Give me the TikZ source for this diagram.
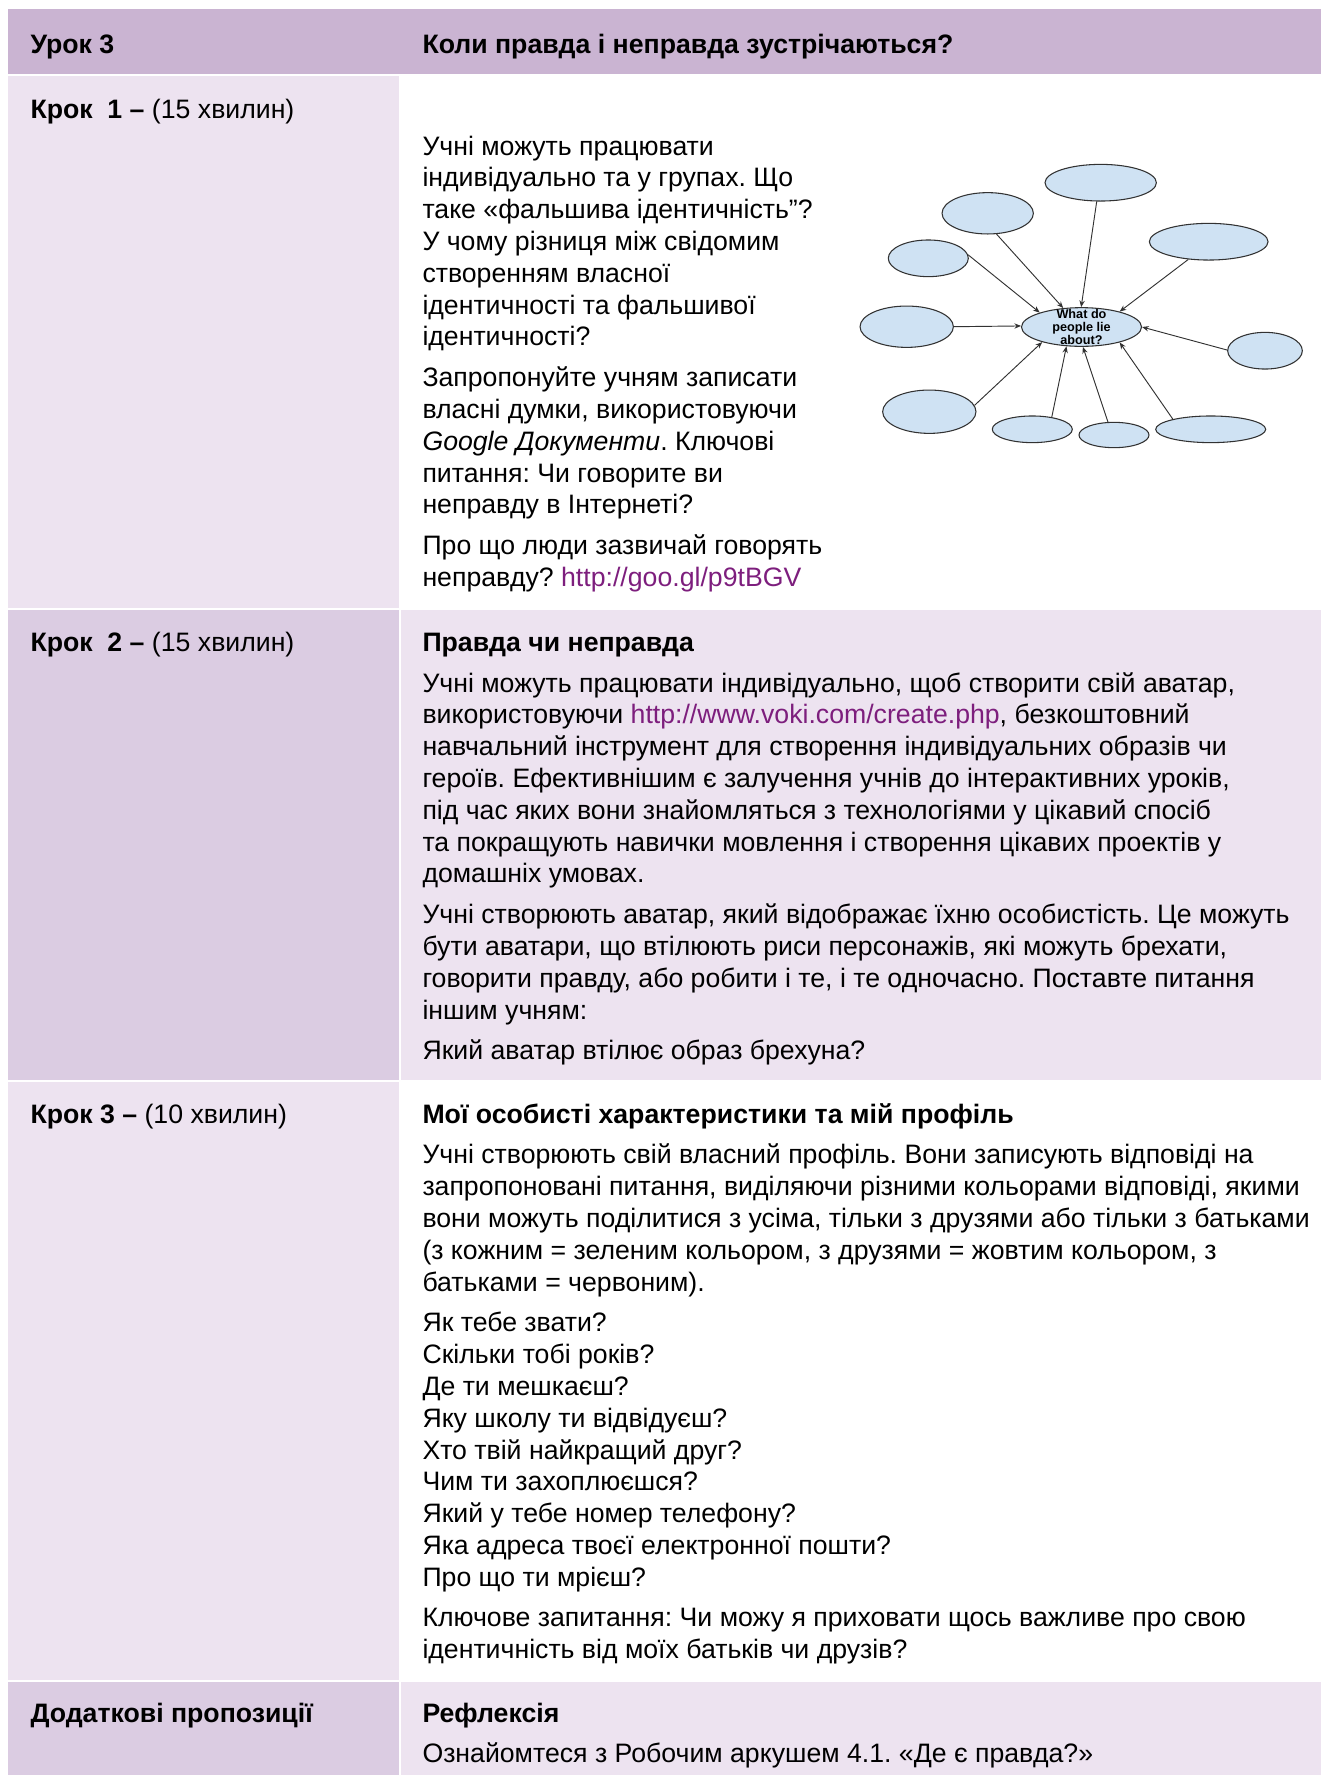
\documentclass[tikz,border=0pt]{standalone}
\usepackage{fontspec}
\setmainfont{Liberation Sans}
\usetikzlibrary{shapes.geometric,arrows.meta}

\definecolor{headpurple}{RGB}{202,180,210}
\definecolor{midpurple}{RGB}{219,204,226}
\definecolor{lightpurple}{RGB}{237,227,240}
\definecolor{linkpurple}{RGB}{125,30,125}
\definecolor{bubbleblue}{RGB}{207,226,243}
\definecolor{inkgray}{RGB}{50,50,50}

\newcommand{\weblink}[1]{{\color{linkpurple}#1}}

\tikzset{every picture/.style={line width=0.75pt}}
\tikzset{
  celltext/.style={anchor=base west, align=left, inner sep=0pt, font=\fontsize{20}{23.85}\selectfont},
  boldtext/.style={celltext, font=\bfseries\fontsize{20}{23.85}\selectfont},
  bubble/.style={ellipse, draw=inkgray, fill=bubbleblue, line width=0.8pt, inner sep=0pt},
  spoke/.style={draw=inkgray, line width=0.7pt, -{Stealth[length=5pt,width=4pt]}},
}

\begin{document}
\frenchspacing
\begin{tikzpicture}[x=0.75pt,y=0.75pt,yscale=-1,xscale=1]
\useasboundingbox (0,0) rectangle (1321,1775);

%Table backgrounds
\fill[headpurple] (8,9) rectangle (1321,74);
\fill[lightpurple] (8,76) rectangle (399,608);
\fill[midpurple] (8,610) rectangle (399,1080);
\fill[lightpurple] (401,610) rectangle (1321,1080);
\fill[lightpurple] (8,1082) rectangle (399,1680);
\fill[midpurple] (8,1682) rectangle (399,1775);
\fill[lightpurple] (401,1682) rectangle (1321,1775);

% Text nodes are placed at the baseline of their last line
% Text Node
\node[boldtext] (lesson) at (30,53) {Урок 3};
% Text Node
\node[boldtext] (topic) at (422,53) {Коли правда і неправда зустрічаються?};

% Text Node
\node[celltext] (stepone) at (30,118) {\textbf{Крок\ \ 1 –} (15 хвилин)};
% Text Node
\node[celltext] (oneA) at (422,345.8) {Учні можуть працювати\\індивідуально та у групах. Що\\таке «фальшива ідентичність”?\\У чому різниця між свідомим\\створенням власної\\ідентичності та фальшивої\\ідентичності?};
% Text Node
\node[celltext] (oneB) at (422,513.8) {Запропонуйте учням записати\\власні думки, використовуючи\\\textit{Google Документи}. Ключові\\питання: Чи говорите ви\\неправду в Інтернеті?};
% Text Node
\node[celltext] (oneC) at (422,586.4) {Про що люди зазвичай говорять\\неправду? \weblink{http://goo.gl/p9tBGV}};

%Shape: Ellipse
\node[bubble, minimum width=90pt, minimum height=29pt] (q) at (1081.5,327) {};
\node[align=center, inner sep=0pt, font=\bfseries\fontsize{9.5}{9.5}\selectfont] (qlabel) at (q.center) {What do\\people lie\\about?};
\node[bubble, minimum width=83.5pt, minimum height=27.5pt] (ea) at (1100.7,182.7) {};
\node[bubble, minimum width=68.5pt, minimum height=31pt] (eb) at (987.7,213.3) {};
\node[bubble, minimum width=89pt, minimum height=27.5pt] (ec) at (1208.7,241.7) {};
\node[bubble, minimum width=60pt, minimum height=27.5pt] (ed) at (928.3,258.3) {};
\node[bubble, minimum width=70pt, minimum height=31pt] (ee) at (906.7,326.7) {};
\node[bubble, minimum width=56pt, minimum height=27.5pt] (ef) at (1265,350.7) {};
\node[bubble, minimum width=70pt, minimum height=32.5pt] (eg) at (929.3,411.7) {};
\node[bubble, minimum width=60pt, minimum height=20pt] (eh) at (1032.3,429.3) {};
\node[bubble, minimum width=52.5pt, minimum height=19pt] (ei) at (1114,435) {};
\node[bubble, minimum width=82.5pt, minimum height=20pt] (ej) at (1210.7,429.3) {};

%Straight Lines
\draw[spoke] (ea.258) -- (q.91);
\draw[spoke] (eb.-67) -- (q.134);
\draw[spoke] (ec.221) -- (q.22);
\draw[spoke] (ed.5) -- (q.161);
\draw[spoke] (ee.0) -- (q.179);
\draw[spoke] (ef.179) -- (q.0);
\draw[spoke] (eg.8) -- (q.201);
\draw[spoke] (eh.32) -- (q.232);
\draw[spoke] (ei.115) -- (q.-86);
\draw[spoke] (ej.165) -- (q.-22);

% Text Node
\node[celltext] (steptwo) at (30,651) {\textbf{Крок\ \ 2 –} (15 хвилин)};
% Text Node
\node[boldtext] (twoTitle) at (422,651) {Правда чи неправда};
% Text Node
\node[celltext] (twoA) at (422,882.8) {Учні можуть працювати індивідуально, щоб створити свій аватар,\\використовуючи \weblink{http://www.voki.com/create.php}, безкоштовний\\навчальний інструмент для створення індивідуальних образів чи\\героїв. Ефективнішим є залучення учнів до інтерактивних уроків,\\під час яких вони знайомляться з технологіями у цікавий спосіб\\та покращують навички мовлення і створення цікавих проектів у\\домашніх умовах.};
% Text Node
\node[celltext] (twoB) at (422,1019) {Учні створюють аватар, який відображає їхню особистість. Це можуть\\бути аватари, що втілюють риси персонажів, які можуть брехати,\\говорити правду, або робити і те, і те одночасно. Поставте питання\\іншим учням:};
% Text Node
\node[celltext] (twoC) at (422,1059.8) {Який аватар втілює образ брехуна?};

% Text Node
\node[celltext] (stepthree) at (30,1123) {\textbf{Крок 3 –} (10 хвилин)};
% Text Node
\node[boldtext] (threeTitle) at (422,1123) {Мої особисті характеристики та мій профіль};
% Text Node
\node[celltext] (threeA) at (422,1291) {Учні створюють свій власний профіль. Вони записують відповіді на\\запропоновані питання, виділяючи різними кольорами відповіді, якими\\вони можуть поділитися з усіма, тільки з друзями або тільки з батьками\\(з кожним = зеленим кольором, з друзями = жовтим кольором, з\\батьками = червоним).};
% Text Node
\node[celltext] (threeB) at (422,1586.2) {Як тебе звати?\\Скільки тобі років?\\Де ти мешкаєш?\\Яку школу ти відвідуєш?\\Хто твій найкращий друг?\\Чим ти захоплюєшся?\\Який у тебе номер телефону?\\Яка адреса твоєї електронної пошти?\\Про що ти мрієш?};
% Text Node
\node[celltext] (threeC) at (422,1658.6) {Ключове запитання: Чи можу я приховати щось важливе про свою\\ідентичність від моїх батьків чи друзів?};

% Text Node
\node[boldtext] (extra) at (30,1722) {Додаткові пропозиції};
% Text Node
\node[boldtext] (fourTitle) at (422,1722) {Рефлексія};
% Text Node
\node[celltext] (fourA) at (422,1762.8) {Ознайомтеся з Робочим аркушем 4.1. «Де є правда?»};

\end{tikzpicture}
\end{document}
